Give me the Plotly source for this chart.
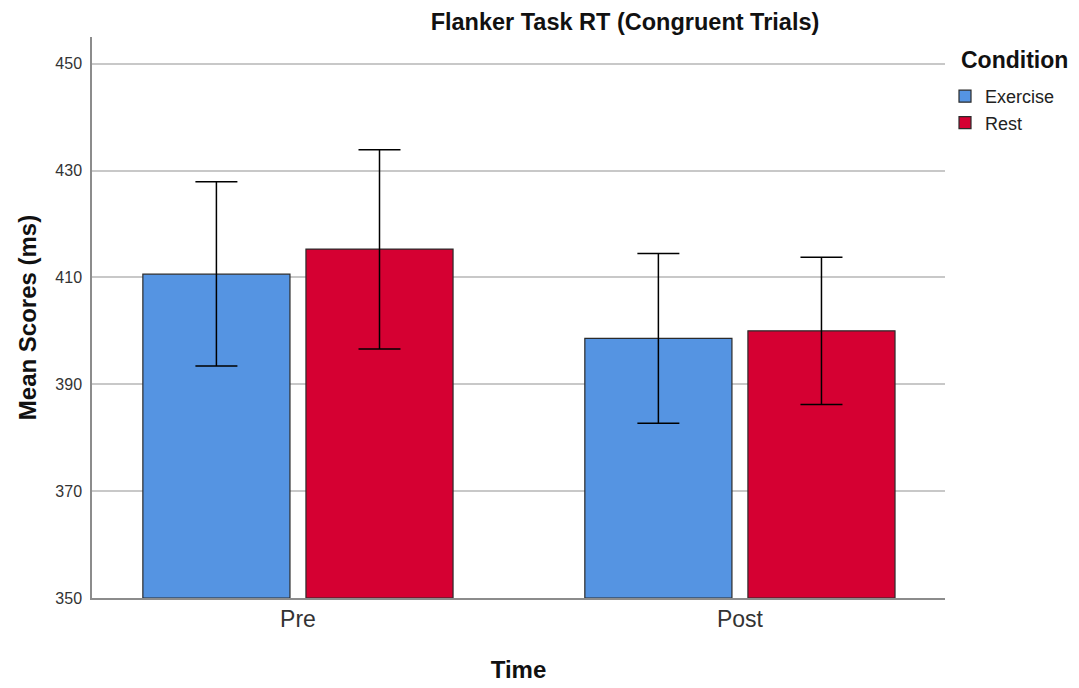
import plotly.graph_objects as go

times = ["Pre", "Post"]
conditions = ["Exercise", "Rest"]
exercise_mean = [410.6, 398.6]
exercise_upper = [427.9, 414.5]
exercise_lower = [393.4, 382.7]
rest_mean = [415.3, 400.0]
rest_upper = [433.9, 413.8]
rest_lower = [396.6, 386.2]
colors = {"Exercise": "#5594e2", "Rest": "#d50032"}

series = {
    "Exercise": (exercise_mean, exercise_upper, exercise_lower),
    "Rest": (rest_mean, rest_upper, rest_lower),
}

fig = go.Figure()
for cond in conditions:
    m, up, lo = series[cond]
    fig.add_trace(go.Bar(
        x=times, y=[v - 350 for v in m], base=350, name=cond,
        marker=dict(color=colors[cond], line=dict(color="#2b2b2b", width=1.2)),
        error_y=dict(type="data", symmetric=False,
                     array=[u - v for u, v in zip(up, m)],
                     arrayminus=[v - l for v, l in zip(m, lo)],
                     color="black", thickness=1.5, width=21),
    ))

# page body has an 8px margin, so the figure is drawn 8px smaller and offset
W, H = 1071, 680
ML, MR, MT, MB = 84, 134, 29, 90
PH = H - MT - MB
PW = W - ML - MR

FONT = "Liberation Sans, Arial, sans-serif"
fig.update_layout(
    width=W, height=H,
    margin=dict(l=ML, r=MR, t=MT, b=MB, autoexpand=False),
    paper_bgcolor="white", plot_bgcolor="white",
    barmode="group", bargap=0.262, bargroupgap=0.098,
    font=dict(family=FONT, color="#222"),
    title=dict(text="<b>Flanker Task RT (Congruent Trials)</b>", x=617 / W, xanchor="center",
               y=1 - 14 / H, yanchor="middle", font=dict(size=23.5, color="#111")),
    legend=dict(x=1.0, xanchor="left", y=1 - (70 - MT) / PH, yanchor="top",
                font=dict(size=18, color="#222"), itemwidth=30, tracegroupgap=0),
    xaxis=dict(range=[-0.466, 1.464], showline=True, linecolor="#8c8c8c", linewidth=1.5,
               ticks="", tickfont=dict(size=23, color="#333"), automargin=False,
               title=dict(text="<b>Time</b>", font=dict(size=24, color="#111"), standoff=30)),
    yaxis=dict(range=[350, 455], tickvals=[350, 370, 390, 410, 430, 450], showgrid=True,
               gridcolor="#c8c8c8", gridwidth=1.5, showline=True, linecolor="#8c8c8c", linewidth=1.5,
               ticks="outside", ticklen=5, tickcolor="rgba(0,0,0,0)", tickfont=dict(size=16, color="#333"),
               zeroline=False, automargin=False,
               title=dict(text="<b>Mean Scores (ms)</b>", font=dict(size=24, color="#111"), standoff=12)),
)
fig.add_annotation(text="<b>Condition</b>", xref="paper", yref="paper",
                   x=1.0 + (951 - ML - PW) / PW, xanchor="left",
                   y=1 - (52 - MT) / PH, yanchor="middle", showarrow=False,
                   font=dict(size=23, color="#111", family=FONT))

fig.write_html("out.html")
